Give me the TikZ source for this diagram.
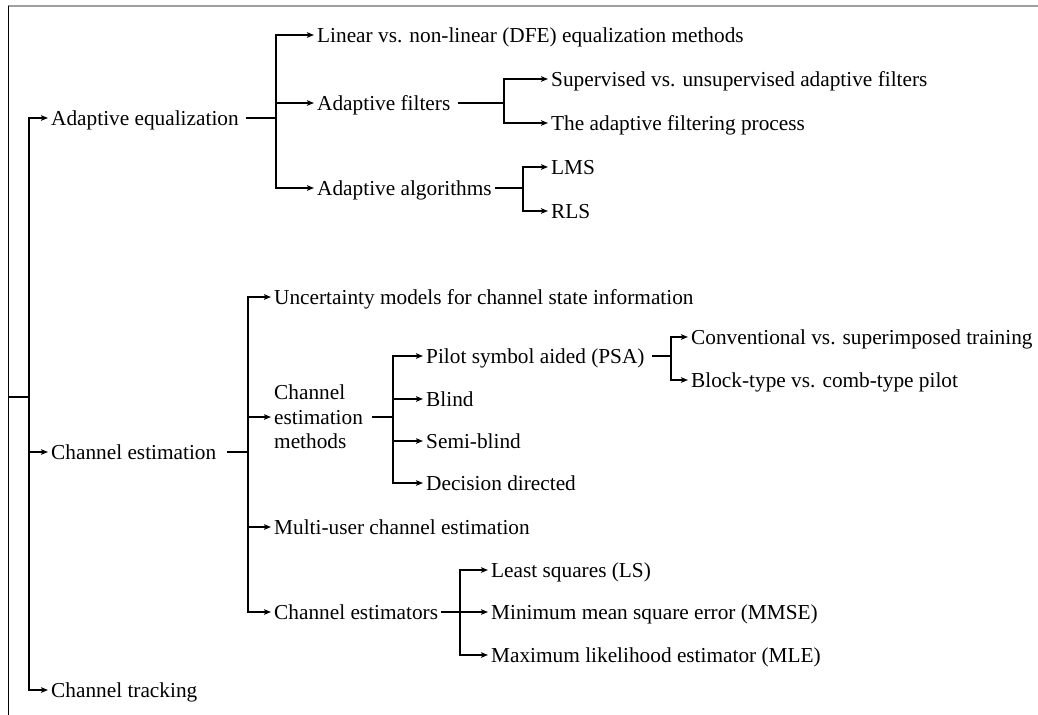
\documentclass[tikz,border=0pt]{standalone}
\usepackage{fontspec}
\setmainfont{Liberation Serif}
\usetikzlibrary{arrows.meta}
\begin{document}
\begin{tikzpicture}[x=1bp,y=-1bp,
  lbl/.style={anchor=west,inner xsep=3bp,inner ysep=0pt,
    font=\fontsize{21.3bp}{25bp}\selectfont,text height=20.3bp,text depth=4.5bp},
  mlbl/.style={anchor=west,inner xsep=3bp,inner ysep=0pt,align=left,
    font=\fontsize{21.3bp}{24.5bp}\selectfont},
  conn/.style={line width=1.2bp,black},
  arr/.style={conn,-{Stealth[length=7bp,width=5.5bp,inset=1.5bp]}}]
\useasboundingbox (0,0) rectangle (1038,715);

% frame edges
\draw[gray!75,line width=2.2bp] (8,6) -- (1038,6);
\draw[line width=1bp] (8.5,6) -- (8.5,715);

% branch points
\coordinate (root) at (8.5,397);
\coordinate (t1) at (29,397);
\coordinate (b1) at (276,118);
\coordinate (b2) at (504,103);
\coordinate (b3) at (523,188);
\coordinate (b4) at (248,452);
\coordinate (b5) at (393,417);
\coordinate (b6) at (671,356);
\coordinate (b7) at (460,612);

% level 1
\node[lbl] (ae) at (48,118) {Adaptive equalization};
\node[lbl] (ce) at (48,452) {Channel estimation};
\node[lbl] (ct) at (48,690) {Channel tracking};

% adaptive equalization branch
\node[lbl] (lin) at (314,35) {Linear vs. non-linear (DFE) equalization methods};
\node[lbl] (af) at (314,103) {Adaptive filters};
\node[lbl] (aa) at (314,188) {Adaptive algorithms};
\node[lbl] (sup) at (548,79) {Supervised vs. unsupervised adaptive filters};
\node[lbl] (proc) at (548,123) {The adaptive filtering process};
\node[lbl] (lms) at (548,167) {LMS};
\node[lbl] (rls) at (548,211) {RLS};

% channel estimation branch
\node[lbl] (unc) at (271,297) {Uncertainty models for channel state information};
\node[mlbl] (cem) at (271,417) {Channel\\estimation\\methods};
\node[lbl] (mu) at (271,527) {Multi-user channel estimation};
\node[lbl] (cest) at (271,612) {Channel estimators};
\node[lbl] (psa) at (423,356) {Pilot symbol aided (PSA)};
\node[lbl] (blind) at (423,399) {Blind};
\node[lbl] (semi) at (423,441) {Semi-blind};
\node[lbl] (dd) at (423,483) {Decision directed};
\node[lbl] (conv) at (688,337) {Conventional vs. superimposed training};
\node[lbl] (block) at (688,380) {Block-type vs. comb-type pilot};
\node[lbl] (ls) at (488,570) {Least squares (LS)};
\node[lbl] (mmse) at (488,612) {Minimum mean square error (MMSE)};
\node[lbl] (mle) at (488,655) {Maximum likelihood estimator (MLE)};

% root connectors
\draw[conn] (root) -- (t1);
\foreach \n in {ae,ce,ct} \draw[arr] (t1) |- (\n.west);

% adaptive equalization connectors
\draw[conn] ([xshift=4bp]ae.east) -- (b1);
\foreach \n in {lin,af,aa} \draw[arr] (b1) |- (\n.west);
\draw[conn] ([xshift=5bp]af.east) -- (b2);
\foreach \n in {sup,proc} \draw[arr] (b2) |- (\n.west);
\draw[conn] (aa.east) -- (b3);
\foreach \n in {lms,rls} \draw[arr] (b3) |- (\n.west);

% channel estimation connectors
\draw[conn] ([xshift=8bp]ce.east) -- (b4);
\foreach \n in {unc,cem,mu,cest} \draw[arr] (b4) |- (\n.west);
\draw[conn] ([xshift=6bp]cem.east) -- (b5);
\foreach \n in {psa,blind,semi,dd} \draw[arr] (b5) |- (\n.west);
\draw[conn] ([xshift=4bp]psa.east) -- (b6);
\foreach \n in {conv,block} \draw[arr] (b6) |- (\n.west);
\draw[conn] (cest.east) -- (b7);
\foreach \n in {ls,mmse,mle} \draw[arr] (b7) |- (\n.west);
\end{tikzpicture}
\end{document}
